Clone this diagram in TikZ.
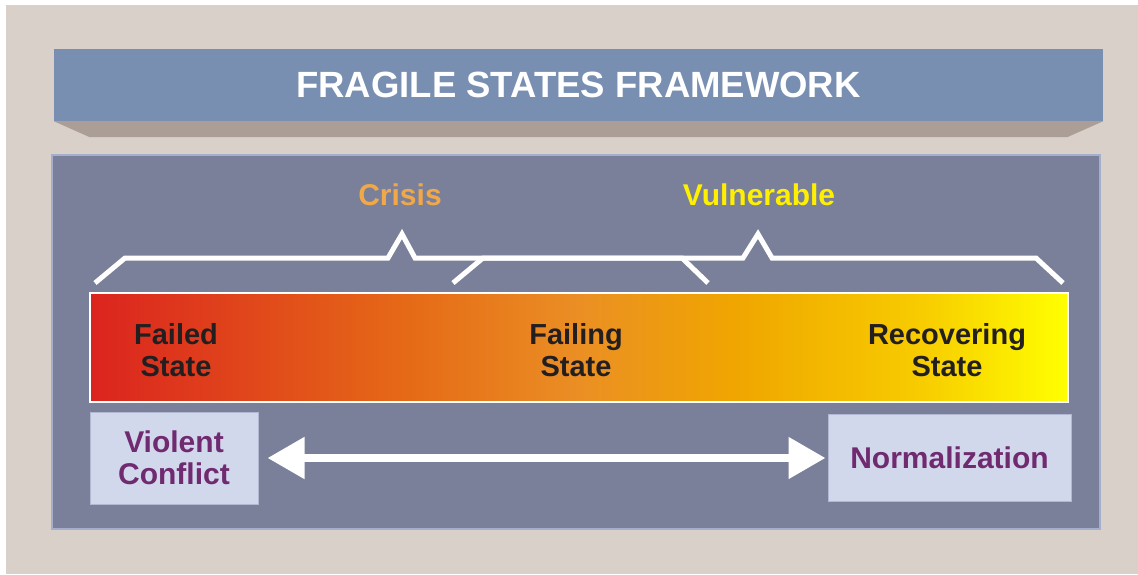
\documentclass[tikz,border=0pt]{standalone}
\usepackage{fontspec}
\setmainfont{Liberation Sans}
\usepackage{xcolor}
\usepackage{tikz}
\usetikzlibrary{shapes,calc,arrows.meta,positioning}
\definecolor{bgbeige}{RGB}{218,208,202}
\definecolor{barblue}{RGB}{120,143,178}
\definecolor{bartaupe}{RGB}{170,158,150}
\definecolor{panelslate}{RGB}{122,128,153}
\definecolor{panelrim}{RGB}{165,175,205}
\definecolor{boxlilac}{RGB}{210,216,236}
\definecolor{boxrim}{RGB}{178,184,210}
\definecolor{plum}{RGB}{112,42,112}
\definecolor{crisisorange}{RGB}{240,168,72}
\definecolor{vulnyellow}{RGB}{255,240,0}
\definecolor{inkdark}{RGB}{35,31,32}
\pgfdeclarehorizontalshading{fragileshade}{100bp}{rgb(0bp)=(0.86,0.14,0.12); rgb(25bp)=(0.86,0.14,0.12); rgb(41.5bp)=(0.90,0.42,0.09); rgb(50bp)=(0.92,0.56,0.14); rgb(58bp)=(0.94,0.65,0); rgb(67.5bp)=(0.97,0.80,0); rgb(75bp)=(1,1,0); rgb(100bp)=(1,1,0)}
\tikzset{
  titlebar/.style={rectangle, fill=barblue, minimum width=1049pt, minimum height=72pt, inner sep=0pt, text=white, font=\fontsize{36.5}{40}\selectfont\bfseries},
  panel/.style={rectangle, fill=panelslate, draw=panelrim, line width=1.5pt},
  statebar/.style={rectangle, shading=fragileshade, draw=white, line width=2.5pt, minimum width=978pt, minimum height=109pt, inner sep=0pt},
  statelbl/.style={align=center, text=inkdark, font=\fontsize{29}{32}\selectfont\bfseries},
  phaselbl/.style={font=\fontsize{30}{32}\selectfont\bfseries},
  bracket/.style={draw=white, line width=5pt, miter limit=10},
  endbox/.style={rectangle, fill=boxlilac, draw=boxrim, line width=1pt, align=center, text=plum, font=\fontsize{30}{32}\selectfont\bfseries, inner sep=0pt},
  dblarrow/.style={draw=white, line width=8pt, {Triangle[length=37pt,width=40pt]}-{Triangle[length=37pt,width=40pt]}}
}
\begin{document}
\begin{tikzpicture}[x=1pt,y=-1pt]
  \useasboundingbox (0,0) rectangle (1138,574);
  \fill[bgbeige] (6,5) rectangle (1138,574);

  % heading bar with its bevel
  \node[titlebar] (title) at (578.5,85) {FRAGILE STATES FRAMEWORK};
  \fill[bartaupe] (title.south west) -- (title.south east) -- ($(title.south east)+(-36,16)$) -- ($(title.south west)+(36,16)$) -- cycle;

  \draw[panel] (52,155) rectangle (1100,529);

  % scale of states
  \node[statebar] (scale) at (579,347.5) {};
  \node[statelbl] (failed) at (176,350) {Failed\\State};
  \node[statelbl] (failing) at (576,350) {Failing\\State};
  \node[statelbl] (recovering) at (947,350) {Recovering\\State};

  \node[phaselbl, text=crisisorange] (crisis) at (400,195) {Crisis};
  \node[phaselbl, text=vulnyellow] (vulnerable) at (759,195) {Vulnerable};

  \draw[bracket] (95,283) -- (125,258) -- (388,258) -- (402,234) -- (415,258) -- (682,258) -- (708,283);
  \draw[bracket] (453,283) -- (483,258) -- (743,258) -- (758,234) -- (772,258) -- (1036,258) -- (1063,283);

  % ends of the range
  \node[endbox, minimum width=168pt, minimum height=92pt] (conflict) at (174,458) {Violent\\Conflict};
  \node[endbox, minimum width=243pt, minimum height=87pt] (normal) at (949.5,458) {Normalization};
  \draw[dblarrow, shorten <=9pt, shorten >=2pt] (conflict) -- (normal);
\end{tikzpicture}
\end{document}
